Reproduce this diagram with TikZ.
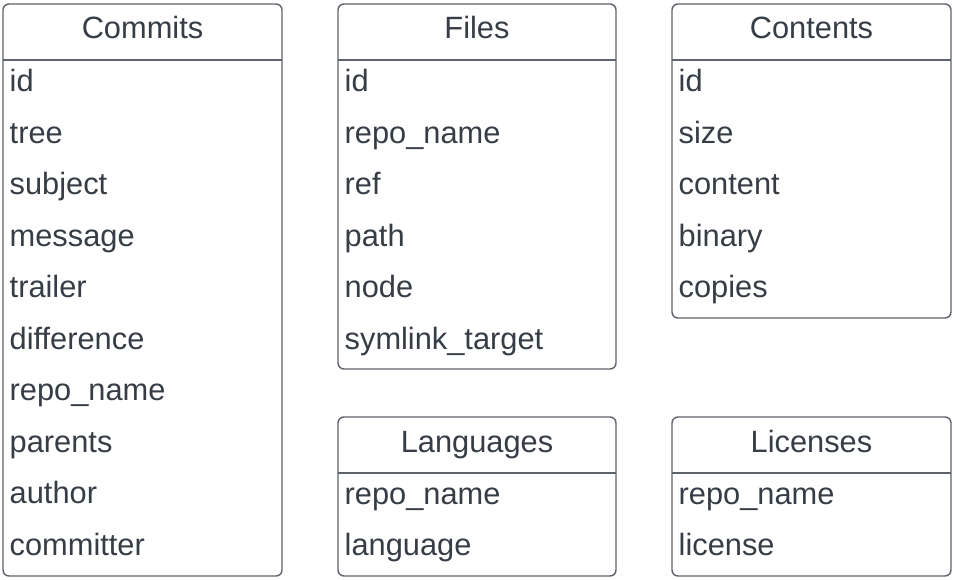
\documentclass[tikz,border=0pt]{standalone}
\usepackage{fontspec}
\setmainfont{Liberation Sans}
\definecolor{txt}{RGB}{55,61,70}
\definecolor{bord}{RGB}{95,100,108}
\begin{document}
\begin{tikzpicture}[x=1pt,y=-1pt,
 tbl/.style={draw=bord, line width=1.4pt, rounded corners=6pt, anchor=north west, inner sep=0pt, outer sep=0pt, minimum width=279pt},
 hdr/.style={font=\fontsize{30.8}{36}\selectfont, text=txt, anchor=base, inner sep=0pt},
 fld/.style={font=\fontsize{30.8}{36}\selectfont, text=txt, anchor=base west, inner sep=0pt},
 sepline/.style={draw=bord, line width=1.4pt}]
\useasboundingbox[fill=white] (0,0) rectangle (954,580);
% boxes
\node[tbl, minimum height=572pt] (commits) at (3,4) {};
\node[tbl, minimum height=365pt, minimum width=278pt] (files) at (338,4) {};
\node[tbl, minimum height=314pt] (contents) at (672,4) {};
\node[tbl, minimum height=159pt, minimum width=278pt] (languages) at (338,417) {};
\node[tbl, minimum height=159pt] (licenses) at (672,417) {};
% header separators and titles
\foreach \b/\t in {commits/Commits, files/Files, contents/Contents, languages/Languages, licenses/Licenses}{
  \draw[sepline] ([yshift=-56pt]\b.north west) -- ([yshift=-56pt]\b.north east);
  \node[hdr] (\b-title) at ([yshift=-35pt]\b.north) {\t};
}
% fields
\foreach \t [count=\i from 0] in {id,tree,subject,message,trailer,difference,repo\_name,parents,author,committer}{
  \node[fld] (commits-f\i) at (9.5,{91.5+51.56*\i}) {\t};
}
\foreach \t [count=\i from 0] in {id,repo\_name,ref,path,node,symlink\_target}{
  \node[fld] (files-f\i) at (344.5,{91.5+51.56*\i}) {\t};
}
\foreach \t [count=\i from 0] in {id,size,content,binary,copies}{
  \node[fld] (contents-f\i) at (678.5,{91.5+51.56*\i}) {\t};
}
\foreach \t [count=\i from 0] in {repo\_name,language}{
  \node[fld] (languages-f\i) at (344.5,{504+51.56*\i}) {\t};
}
\foreach \t [count=\i from 0] in {repo\_name,license}{
  \node[fld] (licenses-f\i) at (678.5,{504+51.56*\i}) {\t};
}
\end{tikzpicture}
\end{document}
